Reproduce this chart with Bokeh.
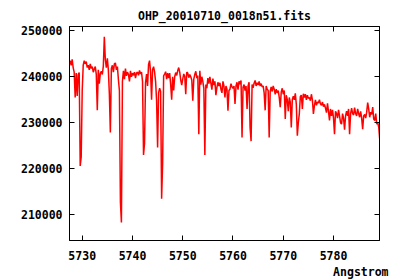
from bokeh.plotting import figure
from bokeh.models import Range1d, LinearAxis, FixedTicker, BasicTickFormatter, Title
from bokeh.embed import file_html
from bokeh.resources import INLINE

TITLE = "OHP_20010710_0018n51.fits"
X_LABEL = "Angstrom"
X_TICKS = [5730, 5740, 5750, 5760, 5770, 5780]
Y_TICKS = [210000, 220000, 230000, 240000, 250000]

# spectral axis as in the FITS header (start wavelength and step)
CRVAL1 = 5727.6
CDELT1 = 0.2

FLUX = [
    243500, 242500, 243800, 242000, 241000, 235500, 240800, 235800, 240500, 240900,
    220600, 222600, 237000, 242500, 243500, 242800, 243300, 242000, 242500, 241500,
    242800, 241800, 242200, 241000, 241700, 242200, 240500, 232700, 241500, 238500,
    240700, 241200, 240500, 242300, 248700, 243700, 242000, 244000, 241500, 236300,
    227900, 241800, 242500, 241000, 242800, 243000, 241500, 242200, 239400, 237000,
    212700, 208300, 239000, 241300, 239500, 241800, 240200, 241000, 240500, 239000,
    241300, 240000, 240800, 240300, 241000, 239700, 240800, 241000, 240300, 241400,
    240600, 241000, 239000, 223000, 225500, 238700, 240600, 238000, 242700, 243500,
    241000, 235000, 241600, 242200, 241000, 239000, 234800, 224600, 236500, 237500,
    236800, 213500, 221200, 240200, 240600, 241100, 239500, 240800, 239700, 240800,
    238300, 235000, 240000, 237000, 240000, 240900, 240300, 241300, 242000, 241000,
    239300, 238200, 239500, 240600, 240100, 236200, 241000, 240800, 239800, 240500,
    240000, 239300, 234800, 239500, 240500, 241200, 239700, 240300, 227500, 241300,
    238300, 240000, 239000, 237500, 223000, 238300, 237500, 239700, 238500, 240000,
    238600, 237200, 239600, 238200, 239000, 236000, 237700, 238800, 238000, 238700,
    237300, 236500, 239000, 238000, 235500, 238000, 237300, 232600, 237000, 237300,
    238500, 237800, 237500, 238000, 234100, 238000, 238800, 237200, 239000, 238400,
    239200, 226800, 237700, 238300, 237000, 238000, 233000, 238000, 238800, 229000,
    226000, 238300, 237600, 238600, 239200, 238000, 238700, 238200, 239000, 238000,
    238500, 237800, 238000, 236500, 232700, 238000, 237300, 237000, 226800, 236800,
    237800, 236800, 238000, 237300, 236200, 237300, 236500, 237000, 235500, 233400,
    236700, 237500, 236200, 237000, 230800, 236000, 235000, 232500, 235500, 234500,
    229000, 235000, 235800, 235000, 236400, 234000, 227200, 230000, 232000, 235700,
    236000, 233000, 236300, 235500, 236200, 235000, 236000, 235300, 235500, 234800,
    236200, 235000, 231900, 233700, 235000, 233800, 234500, 234300, 235000, 234100,
    233800, 234500, 233500, 234000, 233200, 232200, 234200, 232500, 230500, 233000,
    231500, 232800, 231000, 227500, 232500, 232000, 231000, 232800, 231500, 230000,
    229700, 232000, 231000, 228500, 231500, 232500, 231500, 233000, 227500, 232000,
    233200, 232000, 231700, 233300, 232000, 231500, 233000, 232000, 231200, 232500,
    231000, 228600, 231500, 231800, 231000, 232300, 234400, 233000, 231200, 232300,
    231800, 233400, 230800, 230500, 232000, 229700, 230000, 229000, 226300,
]

WAVE = [CRVAL1 + CDELT1 * k for k in range(len(FLUX))]

FONT = "DejaVu Sans Mono"
FS = "11.5px"

p = figure(width=400, height=280, output_backend="svg", toolbar_location=None,
           x_range=Range1d(5727.47, 5789.15), y_range=Range1d(204400, 250930),
           min_border_left=69, min_border_right=21, min_border_top=26,
           min_border_bottom=40, x_axis_location=None, y_axis_location=None)
p.background_fill_color = "white"
p.border_fill_color = "white"
p.outline_line_color = "black"
p.outline_line_width = 1
p.xgrid.visible = False
p.ygrid.visible = False

p.title.text = TITLE
p.title.align = "center"
p.title.text_font = FONT
p.title.text_font_style = "bold"
p.title.text_font_size = FS
p.title.text_color = "black"
p.title.standoff = 7

p.line(WAVE, FLUX, line_color="#ff0000", line_width=1.5)


def style(ax, show):
    ax.axis_line_color = "black"
    ax.major_tick_line_color = "black"
    ax.major_tick_in = 5
    ax.major_tick_out = 0
    ax.minor_tick_line_color = None
    ax.major_label_text_font = FONT
    ax.major_label_text_font_style = "bold"
    ax.major_label_text_font_size = FS
    ax.major_label_text_color = "black" if show else None


xb = LinearAxis(ticker=FixedTicker(ticks=X_TICKS), formatter=BasicTickFormatter(use_scientific=False))
style(xb, True)
xb.major_label_standoff = 10
p.add_layout(xb, "below")
xt = LinearAxis(ticker=FixedTicker(ticks=X_TICKS))
style(xt, False)
xt.major_label_standoff = 0
p.add_layout(xt, "above")
yl = LinearAxis(ticker=FixedTicker(ticks=Y_TICKS), formatter=BasicTickFormatter(use_scientific=False))
style(yl, True)
yl.major_label_standoff = 7
p.add_layout(yl, "left")
yr = LinearAxis(ticker=FixedTicker(ticks=Y_TICKS))
style(yr, False)
p.add_layout(yr, "right")

p.add_layout(Title(text=X_LABEL, align="right", offset=-9, text_font=FONT,
                   text_font_style="bold", text_font_size=FS, text_color="black",
                   standoff=0), "below")

open("out.html", "w").write(file_html(p, INLINE))
